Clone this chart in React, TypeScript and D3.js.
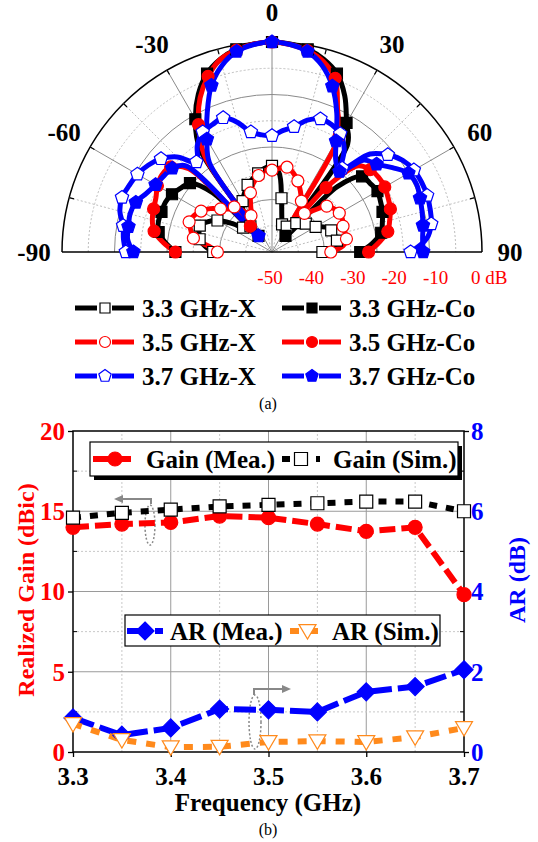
import React, { useEffect, useRef } from "react";
import * as d3 from "d3";

// polar pattern, dB vs angle (deg)
const ANGLES = [
  -90, -85, -80, -75, -70, -65, -60, -55, -50, -45, -40, -35, -30, -25, -20, -15, -10, -5, 0,
  5, 10, 15, 20, 25, 30, 35, 40, 45, 50, 55, 60, 65, 70, 75, 80, 85, 90,
];
const X_33 = [
  -36, -34, -32.5, -32, -31.7, -33, -35, -38, -41, -43, -42, -38, -36, -34.5, -33, -32, -31, -30, -29.5,
  -31, -37, -41, -43, -44, -43, -42, -41, -40, -39.5, -39, -38, -36, -35, -34.5, -34.3, -35, -38,
];
const CO_33 = [
  -27, -24.5, -22.6, -22, -22, -22, -22.5, -23.5, -24.5, -30, -45, -20, -13.5, -8.5, -4.8, -2.5, -1, -0.3, 0,
  -0.3, -1, -2.5, -4.8, -9, -14.5, -18.6, -45, -28, -22, -21.5, -21, -21.5, -22, -22.8, -23.6, -26, -29,
];
const X_35 = [
  -37, -35, -31, -30, -29, -29.5, -30.5, -32, -34, -35.5, -36, -38, -40, -38, -35, -33, -31.5, -30.5, -30.5,
  -30, -29.5, -30.5, -32, -34, -36, -38, -38, -36, -33, -32, -31.5, -31.5, -32, -32, -32, -33, -36,
];
const CO_35 = [
  -27, -24, -21.5, -20.5, -20, -19.5, -18.5, -18, -18.5, -22, -42, -22, -15, -9.5, -5.5, -2.5, -1.2, -0.3, 0,
  -0.4, -1.3, -3, -6, -13, -18, -42, -30, -21, -19.5, -19, -19, -19.5, -20, -21, -22, -24.5, -27,
];
const X_37 = [
  -15.2, -14.5, -14, -12.5, -12, -12.5, -13, -14, -15.5, -18, -22, -19, -17, -16.5, -16, -18, -21, -22, -22.3,
  -21, -19.7, -17.5, -16.3, -16.5, -17.5, -20, -24, -17, -14, -12, -11, -10.7, -10.7, -11, -11.5, -13, -17,
];
const CO_37 = [
  -17, -15.5, -15.3, -15, -15.5, -17, -18, -18.5, -19, -21, -45, -24, -19, -13.5, -7.8, -4, -1.5, -0.4, 0,
  -0.4, -1.5, -4, -8, -13.5, -19.5, -23.5, -25, -19, -17.5, -15, -12.5, -12, -12.5, -13, -13.5, -14, -14,
];
const ANGLE_LABELS = [-90, -60, -30, 0, 30, 60, 90];
const DB_LABELS = [-50, -40, -30, -20, -10, 0];

// gain / AR vs frequency
const FREQ = [3.3, 3.35, 3.4, 3.45, 3.5, 3.55, 3.6, 3.65, 3.7];
const GAIN_MEA = [14.0, 14.2, 14.3, 14.7, 14.6, 14.2, 13.75, 14.0, 9.8];
const GAIN_SIM = [14.6, 14.9, 15.1, 15.3, 15.4, 15.5, 15.6, 15.6, 15.0];
const AR_MEA = [0.85, 0.42, 0.6, 1.07, 1.05, 1.0, 1.5, 1.63, 2.05];
const AR_SIM = [0.7, 0.3, 0.12, 0.13, 0.25, 0.27, 0.25, 0.37, 0.6];
const FREQ_TICKS = [3.3, 3.4, 3.5, 3.6, 3.7];
const GAIN_TICKS = [0, 5, 10, 15, 20];
const AR_TICKS = [0, 2, 4, 6, 8];

const FONT = "'Liberation Serif', 'Times New Roman', serif";
const ORANGE = "#FF8A1C";

type Shape = "square" | "circle" | "pentagon" | "diamond" | "triDown";

function shapePath(shape: Shape, s: number): string {
  if (shape === "square") return `M${-s},${-s}H${s}V${s}H${-s}Z`;
  if (shape === "circle") return `M${-s},0A${s},${s} 0 1 1 ${s},0A${s},${s} 0 1 1 ${-s},0Z`;
  if (shape === "diamond") return `M0,${-s}L${s},0L0,${s}L${-s},0Z`;
  if (shape === "triDown") return `M${-s},${-s * 0.75}L${s},${-s * 0.75}L0,${s * 0.95}Z`;
  const pts = d3.range(5).map((k) => {
    const a = (-90 + k * 72) * (Math.PI / 180);
    return [s * Math.cos(a), s * Math.sin(a)];
  });
  return "M" + pts.map((p) => p.join(",")).join("L") + "Z";
}

const App: React.FC = () => {
  const svgRef = useRef<SVGSVGElement | null>(null);

  useEffect(() => {
    if (!svgRef.current) return;
    const svg = d3.select(svgRef.current);
    svg.selectAll("*").remove();

    const marker = (
      g: d3.Selection<any, any, any, any>,
      shape: Shape,
      x: number,
      y: number,
      s: number,
      color: string,
      filled: boolean
    ) => {
      g.append("path")
        .attr("d", shapePath(shape, s))
        .attr("transform", `translate(${x},${y})`)
        .attr("fill", filled ? color : "#fff")
        .attr("stroke", color)
        .attr("stroke-width", 1.2);
    };

    // ---------- (a) polar ----------
    const cx = 272;
    const cy = 252;
    const R = 210;
    const r = d3.scaleLinear().domain([-50, 0]).range([0, R]).clamp(true);
    const polar = svg.append("g").attr("transform", `translate(${cx},${cy})`);

    for (let k = 1; k <= 8; k++) {
      const rr = (R * k) / 8;
      polar
        .append("path")
        .attr("d", `M${-rr},0A${rr},${rr} 0 0 1 ${rr},0`)
        .attr("fill", "none")
        .attr("stroke", k === 8 ? "#000" : k % 2 === 0 ? "#8a8a8a" : "#bdbdbd")
        .attr("stroke-width", k === 8 ? 1.5 : 1)
        .attr("stroke-dasharray", k % 2 === 1 ? "2,2" : null);
    }
    for (let a = -75; a <= 75; a += 15) {
      const rad = (a * Math.PI) / 180;
      const solid = a % 30 === 0;
      polar
        .append("line")
        .attr("x1", 0)
        .attr("y1", 0)
        .attr("x2", R * Math.sin(rad))
        .attr("y2", -R * Math.cos(rad))
        .attr("stroke", solid ? "#8a8a8a" : "#bdbdbd")
        .attr("stroke-width", 1)
        .attr("stroke-dasharray", solid ? null : "2,2");
      polar
        .append("line")
        .attr("x1", (R - 5) * Math.sin(rad))
        .attr("y1", -(R - 5) * Math.cos(rad))
        .attr("x2", R * Math.sin(rad))
        .attr("y2", -R * Math.cos(rad))
        .attr("stroke", "#000")
        .attr("stroke-width", 1.2);
    }
    polar
      .append("line")
      .attr("x1", -R)
      .attr("x2", R)
      .attr("y1", 0)
      .attr("y2", 0)
      .attr("stroke", "#000")
      .attr("stroke-width", 1.5);

    const curves = [
      { values: X_33, color: "#000", shape: "square" as Shape, filled: false, size: 5.5 },
      { values: CO_33, color: "#000", shape: "square" as Shape, filled: true, size: 5.5 },
      { values: X_35, color: "#f00", shape: "circle" as Shape, filled: false, size: 6 },
      { values: CO_35, color: "#f00", shape: "circle" as Shape, filled: true, size: 6 },
      { values: X_37, color: "#00f", shape: "pentagon" as Shape, filled: false, size: 7 },
      { values: CO_37, color: "#00f", shape: "pentagon" as Shape, filled: true, size: 7 },
    ];

    const radial = d3
      .lineRadial<number>()
      .angle((_, i) => (ANGLES[i] * Math.PI) / 180)
      .radius((d) => r(d))
      .curve(d3.curveCatmullRom.alpha(0.5));

    curves.forEach((c) => {
      polar
        .append("path")
        .attr("d", radial(c.values))
        .attr("fill", "none")
        .attr("stroke", c.color)
        .attr("stroke-width", 5)
        .attr("stroke-linejoin", "round");
    });
    curves.forEach((c) => {
      c.values.forEach((v, i) => {
        if (ANGLES[i] % 10 !== 0) return;
        const rad = (ANGLES[i] * Math.PI) / 180;
        marker(polar, c.shape, r(v) * Math.sin(rad), -r(v) * Math.cos(rad), c.size, c.color, c.filled);
      });
    });

    ANGLE_LABELS.forEach((a) => {
      const rad = (a * Math.PI) / 180;
      const L = Math.abs(a) === 90 ? 238 : 240;
      polar
        .append("text")
        .attr("x", L * Math.sin(rad))
        .attr("y", -L * Math.cos(rad))
        .attr("dy", "0.35em")
        .attr("text-anchor", "middle")
        .attr("font-family", FONT)
        .attr("font-weight", "bold")
        .attr("font-size", 25)
        .text(a);
    });

    const labelX = d3.scaleLinear().domain([-50, 0]).range([cx - 2, cx + 205]);
    DB_LABELS.forEach((v) => {
      svg
        .append("text")
        .attr("x", v === 0 ? labelX(v) - 6 : labelX(v))
        .attr("y", 284)
        .attr("text-anchor", v === 0 ? "start" : "middle")
        .attr("font-family", FONT)
        .attr("font-size", 19)
        .attr("fill", "#f00")
        .text(v === 0 ? "0 dB" : v);
    });

    // polar legend
    const polarLegend = [
      { label: "3.3 GHz-X", color: "#000", shape: "square" as Shape, filled: false, size: 5 },
      { label: "3.3 GHz-Co", color: "#000", shape: "square" as Shape, filled: true, size: 5 },
      { label: "3.5 GHz-X", color: "#f00", shape: "circle" as Shape, filled: false, size: 5.5 },
      { label: "3.5 GHz-Co", color: "#f00", shape: "circle" as Shape, filled: true, size: 5.5 },
      { label: "3.7 GHz-X", color: "#00f", shape: "pentagon" as Shape, filled: false, size: 6.5 },
      { label: "3.7 GHz-Co", color: "#00f", shape: "pentagon" as Shape, filled: true, size: 6.5 },
    ];
    polarLegend.forEach((d, i) => {
      const x0 = i % 2 === 0 ? 75 : 282;
      const y0 = 308 + Math.floor(i / 2) * 34;
      const g = svg.append("g");
      g.append("line").attr("x1", x0).attr("x2", x0 + 22).attr("y1", y0).attr("y2", y0)
        .attr("stroke", d.color).attr("stroke-width", 5);
      g.append("line").attr("x1", x0 + 37).attr("x2", x0 + 59).attr("y1", y0).attr("y2", y0)
        .attr("stroke", d.color).attr("stroke-width", 5);
      marker(g, d.shape, x0 + 30, y0, d.size, d.color, d.filled);
      g.append("text")
        .attr("x", x0 + 67)
        .attr("y", y0 + 9)
        .attr("font-family", FONT)
        .attr("font-weight", "bold")
        .attr("font-size", 25)
        .text(d.label);
    });

    svg.append("text").attr("x", 268).attr("y", 409).attr("text-anchor", "middle")
      .attr("font-family", FONT).attr("font-size", 16).text("(a)");

    // ---------- (b) gain / AR ----------
    const x = d3.scaleLinear().domain([3.3, 3.7]).range([73, 464]);
    const yL = d3.scaleLinear().domain([0, 20]).range([752, 431]);
    const yR = d3.scaleLinear().domain([0, 8]).range([752, 431]);
    const chart = svg.append("g");

    [3.35, 3.4, 3.45, 3.5, 3.55, 3.6, 3.65].forEach((f, i) => {
      const major = i % 2 === 1;
      chart.append("line").attr("x1", x(f)).attr("x2", x(f)).attr("y1", yL(0)).attr("y2", yL(20))
        .attr("stroke", major ? "#9a9a9a" : "#c8c8c8").attr("stroke-width", 1)
        .attr("stroke-dasharray", major ? null : "2,2");
    });
    [2.5, 5, 7.5, 10, 12.5, 15, 17.5].forEach((v) => {
      const major = v % 5 === 0;
      chart.append("line").attr("x1", x(3.3)).attr("x2", x(3.7)).attr("y1", yL(v)).attr("y2", yL(v))
        .attr("stroke", major ? "#9a9a9a" : "#c8c8c8").attr("stroke-width", 1)
        .attr("stroke-dasharray", major ? null : "2,2");
    });

    // frame
    chart.append("rect").attr("x", x(3.3)).attr("y", yL(20)).attr("width", x(3.7) - x(3.3))
      .attr("height", yL(0) - yL(20)).attr("fill", "none").attr("stroke", "#000").attr("stroke-width", 1.5);

    const axL = chart.append("g").attr("transform", `translate(${x(3.3)},0)`)
      .call(d3.axisLeft(yL).tickValues(GAIN_TICKS).tickSize(5).tickFormat(() => ""));
    const axR = chart.append("g").attr("transform", `translate(${x(3.7)},0)`)
      .call(d3.axisRight(yR).tickValues(AR_TICKS).tickSize(5).tickFormat(() => ""));
    const axB = chart.append("g").attr("transform", `translate(0,${yL(0)})`)
      .call(d3.axisBottom(x).tickValues(FREQ_TICKS).tickSize(5).tickFormat(() => ""));
    [axL, axR, axB].forEach((a) => {
      a.select(".domain").remove();
      a.selectAll("line").attr("stroke", "#000").attr("stroke-width", 1.3);
    });
    [2.5, 7.5, 12.5, 17.5].forEach((v) => {
      chart.append("line").attr("x1", x(3.3)).attr("x2", x(3.3) + 4).attr("y1", yL(v)).attr("y2", yL(v))
        .attr("stroke", "#000");
      chart.append("line").attr("x1", x(3.7) - 4).attr("x2", x(3.7)).attr("y1", yL(v)).attr("y2", yL(v))
        .attr("stroke", "#000");
    });

    GAIN_TICKS.forEach((v) => {
      chart.append("text").attr("x", 65).attr("y", yL(v)).attr("dy", "0.35em").attr("text-anchor", "end")
        .attr("font-family", FONT).attr("font-weight", "bold").attr("font-size", 25).attr("fill", "#f00")
        .text(v);
    });
    AR_TICKS.forEach((v) => {
      chart.append("text").attr("x", 471).attr("y", yR(v)).attr("dy", "0.35em").attr("text-anchor", "start")
        .attr("font-family", FONT).attr("font-weight", "bold").attr("font-size", 25).attr("fill", "#00f")
        .text(v);
    });
    FREQ_TICKS.forEach((f) => {
      chart.append("text").attr("x", x(f)).attr("y", 785).attr("text-anchor", "middle")
        .attr("font-family", FONT).attr("font-weight", "bold").attr("font-size", 25).text(f.toFixed(1));
    });
    chart.append("text").attr("x", 268).attr("y", 811).attr("text-anchor", "middle")
      .attr("font-family", FONT).attr("font-weight", "bold").attr("font-size", 25).text("Frequency (GHz)");
    chart.append("text").attr("transform", "translate(34,590) rotate(-90)").attr("text-anchor", "middle")
      .attr("font-family", FONT).attr("font-weight", "bold").attr("font-size", 24).attr("fill", "#f00")
      .text("Realized Gain (dBic)");
    chart.append("text").attr("transform", "translate(525,580) rotate(-90)").attr("text-anchor", "middle")
      .attr("font-family", FONT).attr("font-weight", "bold").attr("font-size", 24).attr("fill", "#00f")
      .text("AR (dB)");
    svg.append("text").attr("x", 268).attr("y", 835).attr("text-anchor", "middle")
      .attr("font-family", FONT).attr("font-size", 16).text("(b)");

    // annotations
    const ann = chart.append("g").attr("stroke", "#888").attr("fill", "none");
    ann.append("path").attr("d", "M120,499H151V504").attr("stroke-width", 2);
    ann.append("path").attr("d", "M114,499L123,495L123,503Z").attr("fill", "#888").attr("stroke", "none");
    ann.append("ellipse").attr("cx", 150).attr("cy", 525).attr("rx", 5).attr("ry", 20)
      .attr("stroke-dasharray", "2,2").attr("stroke-width", 1.5);
    ann.append("path").attr("d", "M254,695V689H284").attr("stroke-width", 2);
    ann.append("path").attr("d", "M291,689L282,685L282,693Z").attr("fill", "#888").attr("stroke", "none");
    ann.append("ellipse").attr("cx", 255).attr("cy", 722).attr("rx", 6).attr("ry", 27)
      .attr("stroke-dasharray", "2,2").attr("stroke-width", 1.5);

    const series = [
      { values: GAIN_MEA, y: yL, color: "#f00", dash: "16 6", shape: "circle" as Shape, filled: true, size: 7 },
      { values: GAIN_SIM, y: yL, color: "#000", dash: "8 9", shape: "square" as Shape, filled: false, size: 6.5 },
      { values: AR_MEA, y: yR, color: "#00f", dash: "22 6", shape: "diamond" as Shape, filled: true, size: 9 },
      { values: AR_SIM, y: yR, color: ORANGE, dash: "9 10", shape: "triDown" as Shape, filled: false, size: 8.5 },
    ];
    series.forEach((s) => {
      const line = d3.line<number>().x((_, i) => x(FREQ[i])).y((d) => s.y(d));
      chart.append("path").attr("d", line(s.values)).attr("fill", "none").attr("stroke", s.color)
        .attr("stroke-width", 6).attr("stroke-dasharray", s.dash);
    });
    series.forEach((s) => {
      s.values.forEach((v, i) => marker(chart, s.shape, x(FREQ[i]), s.y(v), s.size, s.color, s.filled));
    });

    // legend 1 (with shadow)
    chart.append("rect").attr("x", 94).attr("y", 446).attr("width", 368).attr("height", 34).attr("fill", "#000");
    chart.append("rect").attr("x", 90).attr("y", 442).attr("width", 368).attr("height", 34)
      .attr("fill", "#fff").attr("stroke", "#000").attr("stroke-width", 1.2);
    // legend 2
    chart.append("rect").attr("x", 125).attr("y", 615).attr("width", 315).attr("height", 31)
      .attr("fill", "#fff").attr("stroke", "#000").attr("stroke-width", 1.2);

    const legendItems = [
      { s: series[0], x0: 93, x1: 137, tx: 146, y: 459, label: "Gain (Mea.)" },
      { s: series[1], x0: 282, x1: 320, tx: 333, y: 459, label: "Gain (Sim.)" },
      { s: series[2], x0: 127, x1: 163, tx: 170, y: 631, label: "AR (Mea.)" },
      { s: series[3], x0: 290, x1: 325, tx: 332, y: 631, label: "AR (Sim.)" },
    ];
    legendItems.forEach((d) => {
      chart.append("line").attr("x1", d.x0).attr("x2", d.x1).attr("y1", d.y).attr("y2", d.y)
        .attr("stroke", d.s.color).attr("stroke-width", 6).attr("stroke-dasharray", d.s.dash);
      marker(chart, d.s.shape, (d.x0 + d.x1) / 2, d.y, d.s.size, d.s.color, d.s.filled);
      chart.append("text").attr("x", d.tx).attr("y", d.y + 9).attr("font-family", FONT)
        .attr("font-weight", "bold").attr("font-size", 25).text(d.label);
    });
  }, []);

  return (
    <svg
      ref={svgRef}
      width={538}
      height={842}
      style={{ position: "absolute", left: 0, top: 0, background: "#fff" }}
    />
  );
};

export default App;
